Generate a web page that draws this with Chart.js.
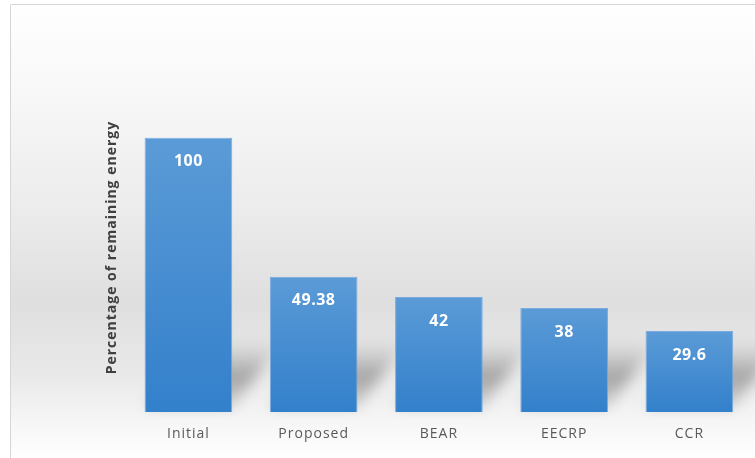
<!DOCTYPE html>
<html>
<head>
<meta charset="utf-8">
<title>Remaining energy</title>
<script src="https://cdn.jsdelivr.net/npm/chart.js@4.4.1/dist/chart.umd.min.js"></script>
<style>
  html, body { margin: 0; padding: 0; background: #ffffff; }
  #wrap { width: 755px; height: 458px; position: relative; }
</style>
</head>
<body>
<div id="wrap"><canvas id="energyChart" width="755" height="458"></canvas></div>
<script>
// protocollen en resterende energie in procenten
const protocols = ['Initial', 'Proposed', 'BEAR', 'EECRP', 'CCR'];
const remainingEnergy = [100, 49.38, 42, 38, 29.6];
const valueLabels = ['100', '49.38', '42', '38', '29.6'];

const ctx = document.getElementById('energyChart');

// achtergrond: lichtgrijs verloop en een dunne rand links en boven
const backgroundPlugin = {
    id: 'backgroundPlugin',
    beforeDraw(chart) {
        const c = chart.ctx;
        const h = chart.height;
        const w = chart.width;
        const grad = c.createLinearGradient(0, 0, 0, h);
        grad.addColorStop(0, '#ffffff');
        grad.addColorStop(0.2, '#f8f8f8');
        grad.addColorStop(0.45, '#ececec');
        grad.addColorStop(0.66, '#dfdfdf');
        grad.addColorStop(0.82, '#e9e9e9');
        grad.addColorStop(0.92, '#f6f6f6');
        grad.addColorStop(1, '#fefefe');
        c.fillStyle = '#ffffff';
        c.fillRect(0, 0, w, h);
        c.fillStyle = grad;
        c.fillRect(11, 5, w - 11, h - 5);
        c.strokeStyle = '#d6d6d6';
        c.lineWidth = 1;
        c.beginPath();
        c.moveTo(10.5, h);
        c.lineTo(10.5, 4.5);
        c.lineTo(w, 4.5);
        c.stroke();
        // iets ruimere letters voor de as-teksten
        c.letterSpacing = '1px';
    },
    beforeDatasetsDraw(chart) {
        chart.ctx.letterSpacing = '0px';
    }
};

// zachte schaduw achter elke staaf, schuin naar rechts
const shadowPlugin = {
    id: 'shadowPlugin',
    beforeDatasetsDraw(chart) {
        const c = chart.ctx;
        const bars = chart.getDatasetMeta(0).data;
        c.save();
        c.filter = 'blur(7px)';
        bars.forEach(bar => {
            const left = bar.x - bar.width / 2;
            const right = bar.x + bar.width / 2;
            const rise = Math.min(72, bar.base - bar.y);
            const grad = c.createLinearGradient(0, bar.base, 0, bar.base - rise);
            grad.addColorStop(0, 'rgba(165,165,165,0.3)');
            grad.addColorStop(0.5, 'rgba(145,145,145,0.8)');
            grad.addColorStop(1, 'rgba(170,170,170,0)');
            c.fillStyle = grad;
            c.beginPath();
            c.moveTo(left, bar.base - 4);
            c.lineTo(right, bar.base - 4);
            c.lineTo(right + rise * 0.7, bar.base - rise);
            c.lineTo(left + rise * 0.7, bar.base - rise);
            c.closePath();
            c.fill();
        });
        c.restore();
    }
};

// waarde in wit bovenin de staaf
const valueLabelPlugin = {
    id: 'valueLabelPlugin',
    afterDatasetsDraw(chart) {
        const c = chart.ctx;
        const bars = chart.getDatasetMeta(0).data;
        c.save();
        c.fillStyle = '#ffffff';
        c.font = 'bold 16px "Open Sans"';
        c.letterSpacing = '0.5px';
        c.textAlign = 'center';
        c.textBaseline = 'middle';
        bars.forEach((bar, i) => {
            c.fillText(valueLabels[i], bar.x, bar.y + 24);
        });
        c.restore();
    }
};

// blauw verloop per staaf
function barGradient(context) {
    const chart = context.chart;
    const yScale = chart.scales.y;
    if (!yScale || !chart.chartArea) {
        return '#4a8fd3';
    }
    const top = yScale.getPixelForValue(context.raw);
    const base = yScale.getPixelForValue(0);
    const grad = chart.ctx.createLinearGradient(0, top, 0, base);
    grad.addColorStop(0, '#5b9bd7');
    grad.addColorStop(1, '#3380cb');
    return grad;
}

new Chart(ctx, {
    type: 'bar',
    data: {
        labels: protocols,
        datasets: [{
            label: 'Percentage of remaining energy',
            data: remainingEnergy,
            backgroundColor: barGradient,
            borderColor: 'rgba(110,165,222,0.9)',
            borderWidth: 1,
            barPercentage: 0.7,
            categoryPercentage: 1.0
        }]
    },
    options: {
        responsive: false,
        animation: false,
        layout: {
            padding: { left: 100, right: 3, top: 83, bottom: 3 }
        },
        plugins: {
            legend: { display: false },
            tooltip: { enabled: false }
        },
        scales: {
            x: {
                grid: { display: false, drawTicks: false },
                border: { display: false },
                ticks: {
                    padding: 13,
                    color: '#595959',
                    font: { family: '"Open Sans"', size: 14 }
                }
            },
            y: {
                min: 0,
                max: 120,
                grid: { display: false, drawTicks: false },
                border: { display: false },
                ticks: { display: false },
                title: {
                    display: true,
                    text: 'Percentage of remaining energy',
                    color: '#404040',
                    padding: { top: 4, bottom: 5 },
                    font: { family: '"Open Sans"', size: 14, weight: 'bold' }
                }
            }
        }
    },
    plugins: [backgroundPlugin, shadowPlugin, valueLabelPlugin]
});
</script>
</body>
</html>
